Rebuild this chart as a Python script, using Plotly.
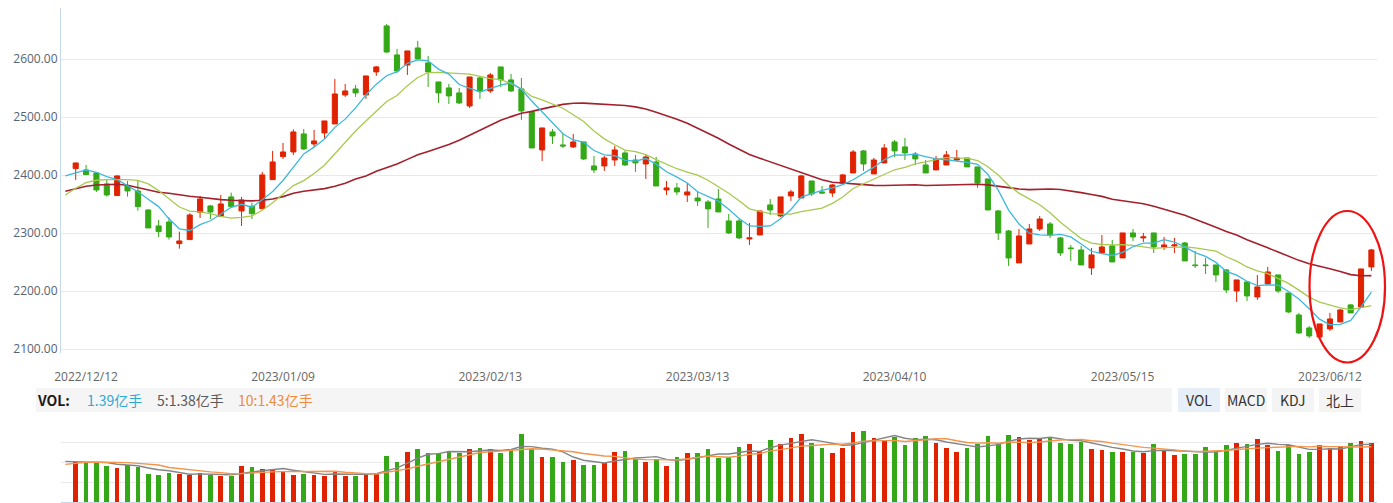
import pandas as pd
import plotly.graph_objects as go

W, H = 1393, 503

# ---------------- data ----------------
HOLIDAYS = ["2023-01-02", "2023-01-23", "2023-01-24", "2023-01-25", "2023-01-26",
            "2023-01-27", "2023-04-05", "2023-05-01", "2023-05-02", "2023-05-03"]
trading_days = [d.strftime("%Y-%m-%d") for d in pd.bdate_range("2022-12-08", "2023-06-16")
                if d.strftime("%Y-%m-%d") not in HOLIDAYS]
line_dates = trading_days            # MA lines start one session before the first candle
candle_dates = trading_days[1:]

tick_dates = ["2022-12-12", "2023-01-09", "2023-02-13", "2023-03-13",
              "2023-04-10", "2023-05-15", "2023-06-12"]
tick_text = ["2022/12/12", "2023/01/09", "2023/02/13", "2023/03/13",
             "2023/04/10", "2023/05/15", "2023/06/12"]

open_ = [2411.5, 2409.2, 2404.0, 2385.1, 2365.0, 2382.2, 2373.0, 2340.2, 2312.7, 2319.5,
         2282.2, 2289.1, 2336.2, 2347.1, 2329.3, 2362.7, 2338.5, 2346.6, 2342.5, 2392.5,
         2432.2, 2440.2, 2471.3, 2454.0, 2473.0, 2488.5, 2538.5, 2548.9, 2538.5, 2578.2,
         2657.5, 2607.5, 2590.2, 2619.5, 2593.7, 2560.9, 2550.6, 2542.0, 2519.5, 2567.8,
         2545.4, 2586.8, 2564.4, 2548.9, 2509.2, 2443.7, 2474.7, 2452.3, 2448.9, 2457.5,
         2416.1, 2416.1, 2426.4, 2438.5, 2426.4, 2419.5, 2423.0, 2374.7, 2378.2, 2366.1,
         2360.9, 2354.0, 2359.2, 2321.3, 2321.3, 2290.2, 2297.1, 2348.9, 2329.9, 2364.4,
         2360.9, 2390.2, 2371.3, 2369.5, 2386.8, 2404.0, 2442.0, 2402.3, 2421.3, 2457.5,
         2448.9, 2436.8, 2417.8, 2409.2, 2417.8, 2426.4, 2429.9, 2414.4, 2393.7, 2338.5,
         2304.0, 2248.9, 2281.6, 2307.5, 2316.1, 2292.0, 2274.7, 2271.3, 2240.2, 2266.1,
         2278.2, 2257.5, 2300.6, 2292.0, 2300.6, 2276.4, 2278.2, 2283.3, 2245.4, 2245.4,
         2245.4, 2236.8, 2200.6, 2216.1, 2190.2, 2212.7, 2228.2, 2197.1, 2159.2, 2136.8,
         2121.3, 2135.1, 2147.1, 2176.5, 2173.0, 2242.0]
high = [2421.3, 2417.8, 2404.0, 2392.0, 2400.0, 2390.2, 2391.4, 2341.4, 2323.0, 2327.6,
        2302.9, 2334.5, 2364.4, 2348.9, 2366.1, 2370.1, 2362.7, 2352.9, 2405.8, 2442.0,
        2455.8, 2479.3, 2479.9, 2478.2, 2493.7, 2566.1, 2557.5, 2555.8, 2571.3, 2588.5,
        2660.9, 2617.8, 2614.4, 2631.6, 2605.8, 2560.9, 2557.5, 2550.6, 2569.5, 2571.3,
        2576.4, 2586.8, 2574.7, 2567.8, 2509.2, 2481.6, 2479.9, 2471.3, 2471.3, 2457.5,
        2433.3, 2433.3, 2450.6, 2442.0, 2435.1, 2435.1, 2431.6, 2390.2, 2386.8, 2386.8,
        2373.0, 2357.5, 2376.4, 2333.3, 2324.7, 2317.8, 2338.5, 2359.2, 2362.7, 2374.7,
        2400.6, 2390.2, 2381.6, 2385.1, 2402.3, 2443.7, 2443.7, 2429.9, 2454.0, 2460.9,
        2464.4, 2440.2, 2426.4, 2433.3, 2442.0, 2443.7, 2429.9, 2414.4, 2393.7, 2340.2,
        2305.8, 2307.5, 2316.1, 2329.9, 2319.5, 2293.7, 2279.9, 2278.2, 2274.7, 2297.1,
        2288.5, 2300.6, 2307.5, 2300.6, 2300.6, 2293.7, 2292.0, 2285.1, 2269.6, 2257.5,
        2245.4, 2238.5, 2219.6, 2216.1, 2228.2, 2242.0, 2228.2, 2197.1, 2162.7, 2140.2,
        2143.7, 2162.7, 2169.5, 2178.2, 2238.5, 2273.0]
low = [2392.0, 2401.2, 2371.3, 2363.2, 2365.0, 2363.2, 2339.1, 2309.2, 2293.7, 2289.1,
       2273.6, 2289.1, 2326.4, 2324.7, 2327.6, 2346.0, 2312.7, 2324.7, 2342.5, 2392.5,
       2428.2, 2435.1, 2443.7, 2448.9, 2462.7, 2488.5, 2535.1, 2535.1, 2531.6, 2571.3,
       2610.9, 2576.4, 2573.0, 2600.6, 2552.3, 2524.7, 2523.0, 2523.0, 2516.1, 2531.6,
       2542.0, 2552.3, 2543.7, 2495.4, 2447.1, 2424.7, 2454.0, 2447.1, 2447.1, 2426.4,
       2404.0, 2407.5, 2416.1, 2416.1, 2405.8, 2393.7, 2381.6, 2366.1, 2366.1, 2354.0,
       2347.1, 2309.2, 2336.8, 2298.9, 2290.2, 2279.9, 2297.1, 2331.6, 2328.2, 2355.8,
       2360.9, 2364.4, 2367.8, 2362.7, 2386.8, 2404.0, 2407.5, 2402.3, 2421.3, 2431.6,
       2426.4, 2417.8, 2404.0, 2409.2, 2417.8, 2424.7, 2414.4, 2378.2, 2340.2, 2288.5,
       2243.7, 2248.9, 2281.6, 2304.0, 2292.0, 2260.9, 2252.3, 2245.4, 2228.2, 2266.1,
       2250.6, 2257.5, 2286.8, 2285.1, 2266.1, 2271.3, 2266.1, 2252.3, 2240.2, 2229.9,
       2216.1, 2197.1, 2181.6, 2183.3, 2185.1, 2212.7, 2197.1, 2162.7, 2126.4, 2119.5,
       2121.3, 2131.6, 2147.1, 2162.7, 2173.0, 2235.1]
close = [2421.3, 2401.2, 2374.7, 2366.1, 2398.9, 2373.0, 2346.0, 2309.2, 2302.9, 2293.7,
         2286.8, 2331.6, 2359.2, 2336.8, 2350.6, 2346.0, 2357.5, 2333.9, 2400.6, 2423.0,
         2440.2, 2474.7, 2445.4, 2459.2, 2493.7, 2540.2, 2545.4, 2542.0, 2571.3, 2586.8,
         2612.6, 2579.9, 2614.4, 2600.6, 2578.2, 2542.0, 2536.8, 2524.7, 2569.5, 2545.4,
         2573.0, 2564.4, 2545.4, 2510.9, 2447.1, 2481.6, 2467.8, 2450.6, 2457.5, 2428.2,
         2409.2, 2429.9, 2443.7, 2417.8, 2421.3, 2431.6, 2381.6, 2378.2, 2371.3, 2371.3,
         2355.8, 2342.0, 2336.8, 2300.6, 2292.0, 2292.0, 2338.5, 2340.2, 2362.7, 2371.3,
         2398.9, 2367.8, 2369.5, 2383.3, 2400.6, 2440.2, 2419.5, 2426.4, 2447.1, 2442.0,
         2438.5, 2428.2, 2404.0, 2428.2, 2435.1, 2429.9, 2414.4, 2386.8, 2340.2, 2300.6,
         2257.5, 2295.4, 2307.5, 2324.7, 2297.1, 2266.1, 2273.6, 2245.4, 2262.7, 2276.4,
         2250.6, 2300.6, 2293.7, 2293.7, 2276.4, 2279.9, 2279.9, 2252.3, 2244.3, 2244.3,
         2228.2, 2202.3, 2219.6, 2192.0, 2207.5, 2233.3, 2200.6, 2164.4, 2128.2, 2123.0,
         2143.7, 2152.3, 2167.8, 2162.7, 2238.5, 2271.3]

# volume, 亿手
volume = [0.950, 0.927, 0.927, 0.848, 0.801, 0.872, 0.825, 0.660, 0.636, 0.683,
          0.660, 0.636, 0.699, 0.636, 0.613, 0.613, 0.848, 0.825, 0.777, 0.793,
          0.707, 0.636, 0.660, 0.636, 0.613, 0.746, 0.613, 0.613, 0.675, 0.691,
          1.084, 0.950, 1.186, 1.249, 1.154, 1.154, 1.209, 1.154, 1.249, 1.272,
          1.249, 1.154, 1.264, 1.602, 1.249, 1.060, 1.060, 0.942, 0.989, 0.872,
          0.872, 0.919, 1.178, 1.201, 1.013, 0.942, 1.013, 0.848, 1.060, 1.154,
          1.154, 1.249, 1.037, 1.060, 1.296, 1.366, 1.209, 1.461, 1.366, 1.508,
          1.602, 1.390, 1.272, 1.154, 1.272, 1.649, 1.673, 1.508, 1.461, 1.532,
          1.343, 1.508, 1.555, 1.390, 1.272, 1.178, 1.272, 1.366, 1.555, 1.390,
          1.579, 1.532, 1.461, 1.516, 1.532, 1.390, 1.366, 1.414, 1.249, 1.225,
          1.178, 1.178, 1.178, 1.154, 1.366, 1.225, 1.107, 1.131, 1.131, 1.296,
          1.209, 1.343, 1.390, 1.366, 1.484, 1.343, 1.201, 1.343, 1.131, 1.178,
          1.343, 1.272, 1.319, 1.390, 1.437, 1.390]

# moving-average values read where the window reaches before the first candle
ma5_head = [2398.9, 2403.5, 2409.2, 2405.2, 2397.7]
ma10_head = [2366.1, 2377.6, 2387.4, 2391.4, 2392.5, 2393.1, 2392.5, 2391.4, 2385.1, 2373.6]
ma30_head = [2372.4, 2377.0, 2381.0, 2383.3, 2384.5, 2384.5, 2382.8, 2378.7, 2374.1, 2370.7,
             2369.0, 2366.1, 2363.8, 2362.1, 2359.8, 2358.1, 2356.9, 2355.8, 2355.8, 2356.9,
             2359.2, 2363.2, 2369.0, 2372.4, 2374.7, 2377.0, 2381.0, 2386.2, 2393.7, 2398.9]
vol_ma5_head = [0.958, 0.950, 0.950, 0.942, 0.927]
vol_ma10_head = [0.887, 0.919, 0.935, 0.942, 0.942, 0.935, 0.927, 0.911, 0.895, 0.872]

vol_labels = ["1.39亿手", "5:1.38亿手", "10:1.43亿手"]
buttons = ["VOL", "MACD", "KDJ", "北上"]


def moving(values, n, head):
    full = pd.Series(values).rolling(n).mean().tolist()
    return list(head) + full[n - 1:]


ma5 = moving(close, 5, ma5_head)
ma10 = moving(close, 10, ma10_head)
ma30 = moving(close, 30, ma30_head)
vma5 = moving(volume, 5, vol_ma5_head)
vma10 = moving(volume, 10, vol_ma10_head)

# ---------------- styling ----------------
RED = "#e02200"
GREEN = "#34a816"
FONT = "Open Sans, Noto Sans CJK SC, sans-serif"
CJK = "Noto Sans CJK SC, sans-serif"


def px(x):
    return x / W


def py(y):
    return 1 - y / H


STEP = 10.3656
X0 = 65.33
XL, XR = 61, 1377
xrange_ = [(XL - X0) / STEP, (XR - X0) / STEP]

vol_colors = [RED if c >= o else GREEN for o, c in zip(open_, close)]

fig = go.Figure()

fig.add_trace(go.Scatter(x=line_dates, y=ma30, mode="lines", line=dict(color="#a3202c", width=1.6),
                         hoverinfo="skip", xaxis="x", yaxis="y"))
fig.add_trace(go.Scatter(x=line_dates, y=ma10, mode="lines", line=dict(color="#a8c94e", width=1.3),
                         hoverinfo="skip", xaxis="x", yaxis="y"))
fig.add_trace(go.Scatter(x=line_dates, y=ma5, mode="lines", line=dict(color="#3db8dc", width=1.3),
                         hoverinfo="skip", xaxis="x", yaxis="y"))
fig.add_trace(go.Candlestick(
    x=candle_dates, open=open_, high=high, low=low, close=close,
    increasing=dict(line=dict(color=RED, width=1), fillcolor=RED),
    decreasing=dict(line=dict(color=GREEN, width=1), fillcolor=GREEN),
    whiskerwidth=0, hoverinfo="skip", xaxis="x", yaxis="y"))

fig.add_trace(go.Bar(x=candle_dates, y=volume, marker=dict(color=vol_colors, line=dict(width=0)),
                     width=0.45, hoverinfo="skip", xaxis="x2", yaxis="y2"))
fig.add_trace(go.Scatter(x=line_dates, y=vma5, mode="lines", line=dict(color="#858585", width=1.4),
                         hoverinfo="skip", xaxis="x2", yaxis="y2"))
fig.add_trace(go.Scatter(x=line_dates, y=vma10, mode="lines", line=dict(color="#f2954e", width=1.4),
                         hoverinfo="skip", xaxis="x2", yaxis="y2"))

vol_unit = 59 / 1.39  # px per 亿手
vol_top = 79.3 / vol_unit

shapes = [
    dict(type="rect", xref="paper", yref="paper", x0=px(36), x1=px(1172), y0=py(412), y1=py(388),
         fillcolor="#f5f5f5", line=dict(width=0), layer="below"),
]
btn_x = [1178, 1225, 1272, 1319]
for i, b in enumerate(buttons):
    shapes.append(dict(type="rect", xref="paper", yref="paper", x0=px(btn_x[i]), x1=px(btn_x[i] + 42),
                       y0=py(412), y1=py(388), fillcolor="#e6eef8" if i == 0 else "#f4f4f4",
                       line=dict(width=0), layer="below"))
shapes.append(dict(type="circle", xref="paper", yref="paper", x0=px(1309.5), x1=px(1385),
                   y0=py(362.5), y1=py(211), line=dict(color="#f01212", width=2.2)))

annotations = [
    dict(text="<b>VOL:</b>", x=px(35), y=py(400), xref="paper", yref="paper", xanchor="left",
         yanchor="middle", showarrow=False, font=dict(family=CJK, size=14, color="#1c1c1c")),
]
lab_x = [85, 155, 236]
lab_col = ["#2fa9d6", "#5a5a5a", "#f08a3c"]
for t, x, c in zip(vol_labels, lab_x, lab_col):
    annotations.append(dict(text=t, x=px(x), y=py(400), xref="paper", yref="paper", xanchor="left",
                            yanchor="middle", showarrow=False, font=dict(family=CJK, size=14, color=c)))
for i, b in enumerate(buttons):
    annotations.append(dict(text=b, x=px(btn_x[i] + 21), y=py(400), xref="paper", yref="paper",
                            xanchor="center", yanchor="middle", showarrow=False,
                            font=dict(family=CJK, size=14, color="#333333")))

fig.update_layout(
    width=W, height=H, margin=dict(l=0, r=0, t=0, b=0, pad=0, autoexpand=False),
    paper_bgcolor="white", plot_bgcolor="white", showlegend=False, hovermode=False,
    bargap=0,
    xaxis=dict(domain=[px(XL), px(XR)], type="category", categoryorder="array",
               categoryarray=trading_days, range=xrange_, anchor="y", automargin=False,
               rangeslider=dict(visible=False), showgrid=False, showline=False, zeroline=False,
               tickmode="array", tickvals=tick_dates, ticktext=tick_text,
               ticks="outside", ticklen=13, tickcolor="rgba(0,0,0,0)",
               tickfont=dict(family=FONT, size=12, color="#666666")),
    yaxis=dict(domain=[py(353), py(8)], range=[2093.6, 2688.4], anchor="x", automargin=False,
               tickvals=[2100, 2200, 2300, 2400, 2500, 2600], tickformat=".2f",
               showgrid=True, gridcolor="#e8e8ee", gridwidth=1, zeroline=False,
               showline=True, linecolor="#c4d8ee", linewidth=1, ticks="",
               tickfont=dict(family=FONT, size=12, color="#596270")),
    xaxis2=dict(domain=[px(XL), px(XR)], type="category", categoryorder="array",
                categoryarray=trading_days, range=xrange_, anchor="y2", automargin=False,
                showgrid=False, showticklabels=False, showline=True, linecolor="#c4d8ee",
                linewidth=1.5, zeroline=False, ticks=""),
    yaxis2=dict(domain=[py(502), py(422.7)], range=[0, vol_top], anchor="x2", automargin=False,
                dtick=19.8 / vol_unit, tick0=0, showgrid=True, gridcolor="#e8e8ee",
                showticklabels=False, zeroline=False, showline=False, ticks=""),
    shapes=shapes, annotations=annotations,
)

fig.write_html("out.html")
